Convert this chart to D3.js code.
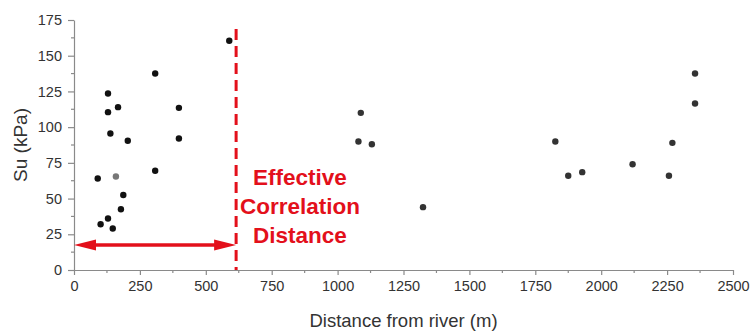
<!DOCTYPE html>
<html>
<head>
<meta charset="utf-8">
<script src="https://cdn.jsdelivr.net/npm/d3@7"></script>
<style>
  html, body { margin: 0; padding: 0; background: #fff; }
  svg { display: block; font-family: "Liberation Sans", Arial, sans-serif; }
</style>
</head>
<body>
<svg id="chart" width="750" height="331"></svg>
<script>
// Data
const distance = [90, 101, 129, 129, 129, 138, 147, 159, 167, 178, 187, 204, 308, 308, 398, 398, 589,
                  1088, 1079, 1130, 1324,
                  1826, 1875, 1928, 2119, 2257, 2270, 2356, 2356];
const su =       [64, 32, 123.5, 110.5, 36, 95.5, 29, 65.5, 114, 42.5, 52.5, 90.5, 137.5, 69.5, 113.5, 92, 160.5,
                  110, 90, 88, 44,
                  90, 66, 68.5, 74, 66, 89, 137.5, 116.5];
const pointShade = ["#111","#111","#111","#111","#111","#111","#111","#777","#111","#111","#111","#111","#111","#111","#111","#111","#111",
                    "#333","#333","#333","#333",
                    "#333","#333","#333","#333","#333","#333","#333","#333"];
const xTicks = [0, 250, 500, 750, 1000, 1250, 1500, 1750, 2000, 2250, 2500];
const yTicks = [0, 25, 50, 75, 100, 125, 150, 175];
const correlationDistance = 615;
const arrowLevel = 17.5;
const annotation = ["Effective", "Correlation", "Distance"];

const svg = d3.select("#chart");
const x = d3.scaleLinear().domain([0, 2500]).range([74, 733]);
const y = d3.scaleLinear().domain([0, 175]).range([270, 20]);
const axisColor = "#8a8a8a";
const textColor = "#333";
const red = "#e3101b";

// minor ticks
const xMinor = d3.range(125, 2500, 250);
const yMinor = d3.range(12.5, 175, 25);

// X axis
const gx = svg.append("g").attr("transform", `translate(0,${y(0)})`)
  .call(d3.axisBottom(x).tickValues(xTicks).tickFormat(d3.format("d")).tickSize(5).tickSizeOuter(0).tickPadding(6));
gx.select(".domain").attr("stroke", axisColor).attr("stroke-width", 1.2);
gx.selectAll(".tick line").attr("stroke", axisColor).attr("stroke-width", 1.2);
gx.selectAll(".tick text").attr("fill", textColor).attr("font-size", 14.5).attr("font-family", "Liberation Sans, Arial, sans-serif");
gx.selectAll(".minor").data(xMinor).enter().append("line")
  .attr("x1", d => x(d)).attr("x2", d => x(d)).attr("y1", 0).attr("y2", 3)
  .attr("stroke", axisColor).attr("stroke-width", 1.2);

// Y axis
const gy = svg.append("g").attr("transform", `translate(${x(0)},0)`)
  .call(d3.axisLeft(y).tickValues(yTicks).tickSize(6).tickSizeOuter(0).tickPadding(6));
gy.select(".domain").attr("stroke", axisColor).attr("stroke-width", 1.2);
gy.selectAll(".tick line").attr("stroke", axisColor).attr("stroke-width", 1.2);
gy.selectAll(".tick text").attr("fill", textColor).attr("font-size", 14.5).attr("font-family", "Liberation Sans, Arial, sans-serif");
gy.selectAll(".minor").data(yMinor).enter().append("line")
  .attr("y1", d => y(d)).attr("y2", d => y(d)).attr("x1", 0).attr("x2", -3)
  .attr("stroke", axisColor).attr("stroke-width", 1.2);

// axis titles
svg.append("text").attr("x", (x(0) + x(2500)) / 2).attr("y", 327)
  .attr("text-anchor", "middle").attr("font-size", 18.5).attr("fill", textColor)
  .text("Distance from river (m)");
svg.append("text").attr("transform", `translate(27,${(y(0) + y(175)) / 2}) rotate(-90)`)
  .attr("text-anchor", "middle").attr("font-size", 19).attr("fill", textColor)
  .text("Su (kPa)");

// dashed red line
svg.append("line")
  .attr("x1", x(correlationDistance)).attr("x2", x(correlationDistance))
  .attr("y1", 29).attr("y2", y(0))
  .attr("stroke", red).attr("stroke-width", 3).attr("stroke-dasharray", "11,6");

// double arrow
const ay = y(arrowLevel);
const ax0 = x(0), ax1 = x(correlationDistance);
const headL = 22, headH = 5.5;
svg.append("line").attr("x1", ax0 + headL - 2).attr("x2", ax1 - headL + 2)
  .attr("y1", ay).attr("y2", ay).attr("stroke", red).attr("stroke-width", 3.5);
svg.append("path").attr("fill", red)
  .attr("d", `M${ax0},${ay} L${ax0 + headL},${ay - headH} L${ax0 + headL},${ay + headH} Z`);
svg.append("path").attr("fill", red)
  .attr("d", `M${ax1},${ay} L${ax1 - headL},${ay - headH} L${ax1 - headL},${ay + headH} Z`);

// annotation text
svg.append("text").attr("x", 300).attr("y", 185)
  .attr("text-anchor", "middle").attr("font-size", 22.5).attr("font-weight", "bold").attr("fill", red)
  .selectAll("tspan").data(annotation).enter().append("tspan")
  .attr("x", 300).attr("dy", (d, i) => i === 0 ? 0 : 29).text(d => d);

// points
svg.append("g").selectAll("circle").data(distance).enter().append("circle")
  .attr("cx", d => x(d)).attr("cy", (d, i) => y(su[i])).attr("r", 3.2)
  .attr("fill", (d, i) => pointShade[i]);
</script>
</body>
</html>
